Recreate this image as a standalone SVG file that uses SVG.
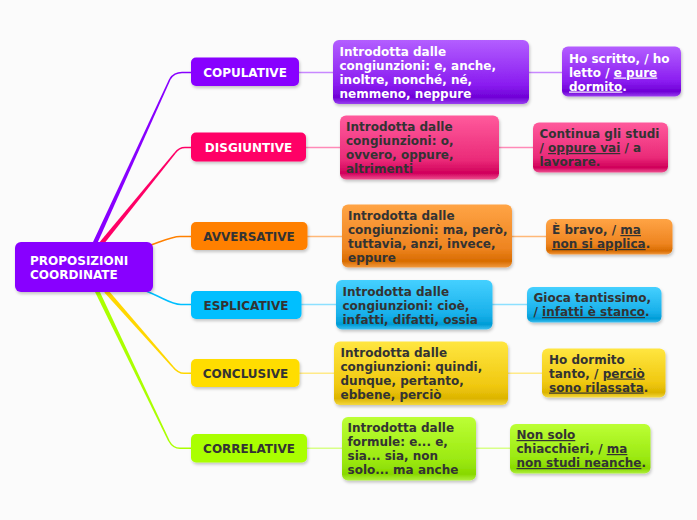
<svg xmlns="http://www.w3.org/2000/svg" width="697" height="520" viewBox="0 0 697 520">
<defs>
<style>
text{font-family:"DejaVu Sans",Verdana,sans-serif;font-weight:bold;font-size:12px}
.w{fill:#ffffff}
.d{fill:#333333}
.c{text-anchor:middle}
.u{text-decoration:underline}
.l2{fill:none;stroke-width:1.5}
</style>
<filter id="sh" x="-10%" y="-10%" width="120%" height="130%"><feDropShadow dx="1" dy="2" stdDeviation="1.5" flood-color="#000" flood-opacity="0.22"/></filter>
<linearGradient id="gv" x1="0" y1="0" x2="0" y2="1"><stop offset="0" stop-color="#b35eff"/><stop offset="0.7" stop-color="#8a1cf0"/><stop offset="0.9" stop-color="#6f00d6"/><stop offset="1" stop-color="#9a40f0"/></linearGradient>
<linearGradient id="gp" x1="0" y1="0" x2="0" y2="1"><stop offset="0" stop-color="#ff5a9c"/><stop offset="0.7" stop-color="#ea2a78"/><stop offset="0.9" stop-color="#d0005a"/><stop offset="1" stop-color="#ee5090"/></linearGradient>
<linearGradient id="go" x1="0" y1="0" x2="0" y2="1"><stop offset="0" stop-color="#ffa445"/><stop offset="0.7" stop-color="#ee8420"/><stop offset="0.9" stop-color="#d86c00"/><stop offset="1" stop-color="#f29a40"/></linearGradient>
<linearGradient id="gb" x1="0" y1="0" x2="0" y2="1"><stop offset="0" stop-color="#45d0ff"/><stop offset="0.7" stop-color="#18b0ea"/><stop offset="0.9" stop-color="#009cd6"/><stop offset="1" stop-color="#40c0f0"/></linearGradient>
<linearGradient id="gy" x1="0" y1="0" x2="0" y2="1"><stop offset="0" stop-color="#ffe640"/><stop offset="0.7" stop-color="#f0c810"/><stop offset="0.9" stop-color="#dcb400"/><stop offset="1" stop-color="#f4d840"/></linearGradient>
<linearGradient id="gl" x1="0" y1="0" x2="0" y2="1"><stop offset="0" stop-color="#bcff35"/><stop offset="0.7" stop-color="#9ae810"/><stop offset="0.9" stop-color="#88d800"/><stop offset="1" stop-color="#b0f040"/></linearGradient>
</defs>
<rect width="697" height="520" fill="#fbfbfb"/>
<g id="connectors">
<polygon points="93,242.1 169.27,78.67 170.73,79.33 97,243.9" fill="#8800ff"/>
<path d="M170,79 Q174,72.5 182,72.5 L191,72.5" class="l2" stroke="#8800ff"/>
<polygon points="99.29,242.61 174.38,152.5 175.62,153.5 102.71,245.39" fill="#ff0066"/>
<path d="M175,153 Q179,147.5 185,147.5 L191,147.5" class="l2" stroke="#ff0066"/>
<path d="M148,246 C165,240 172,236.5 180,236.5 L191,236.5" class="l2" stroke="#ff8000" stroke-width="1.8"/>
<path d="M146,291 C164,298 171,304.5 181,304.5 L191,304.5" class="l2" stroke="#00bfff" stroke-width="1.8"/>
<polygon points="107.65,289.55 173.6,366.47 172.4,367.53 104.35,292.45" fill="#ffd700"/>
<path d="M173,367 Q178,373.3 184,373.3 L191,373.3" class="l2" stroke="#ffd700"/>
<polygon points="98.98,290.05 169.72,440.65 168.28,441.35 95.02,291.95" fill="#aaff00"/>
<path d="M169,441 Q173,448.3 180,448.3 L191,448.3" class="l2" stroke="#aaff00"/>
<path d="M299,72.5 H333 M529,72.5 H562" class="l2" stroke="#c888ff"/>
<path d="M305,147.5 H340 M499,147.5 H533" class="l2" stroke="#ff8ab8"/>
<path d="M307,236.5 H342 M512,236.5 H546" class="l2" stroke="#ffb877"/>
<path d="M301,304.5 H336 M492,304.5 H527" class="l2" stroke="#8ce0ff"/>
<path d="M299,373.3 H334 M508,373.3 H542" class="l2" stroke="#ffea88"/>
<path d="M307,448.3 H342 M476,448.3 H510" class="l2" stroke="#d8ff88"/>
</g>
<g id="root">
<rect x="15" y="242" width="138" height="50" rx="6" fill="#8800ff" filter="url(#sh)"/>
<text class="w" x="30" y="265">PROPOSIZIONI</text>
<text class="w" x="30" y="279">COORDINATE</text>
</g>
<g id="copulative">
<rect x="191" y="57.5" width="108" height="28.5" rx="5" fill="#8800ff" filter="url(#sh)"/>
<text class="w c" x="245" y="77">COPULATIVE</text>
</g>
<g id="copulative-def">
<rect x="333" y="40" width="196" height="64" rx="6" fill="url(#gv)" filter="url(#sh)"/>
<text class="w" x="339.5" y="56">Introdotta dalle</text>
<text class="w" x="339.5" y="70">congiunzioni: e, anche,</text>
<text class="w" x="339.5" y="84">inoltre, nonché, né,</text>
<text class="w" x="339.5" y="98">nemmeno, neppure</text>
</g>
<g id="copulative-ex">
<rect x="562" y="46.5" width="119" height="50" rx="6" fill="url(#gv)" filter="url(#sh)"/>
<text class="w" x="569" y="62.5">Ho scritto, / ho</text>
<text class="w" x="569" y="76.5">letto / <tspan class="u">e pure </tspan></text>
<text class="w" x="569" y="90.5"><tspan class="u">dormito</tspan>.</text>
</g>
<g id="disgiuntive">
<rect x="191" y="132.5" width="115" height="29" rx="5" fill="#ff0066" filter="url(#sh)"/>
<text class="w c" x="248.5" y="152">DISGIUNTIVE</text>
</g>
<g id="disgiuntive-def">
<rect x="340" y="115.5" width="159" height="64" rx="6" fill="url(#gp)" filter="url(#sh)"/>
<text class="d" x="346" y="131">Introdotta dalle</text>
<text class="d" x="346" y="145">congiunzioni: o,</text>
<text class="d" x="346" y="159">ovvero, oppure,</text>
<text class="d" x="346" y="173">altrimenti</text>
</g>
<g id="disgiuntive-ex">
<rect x="533" y="122.5" width="135" height="50" rx="6" fill="url(#gp)" filter="url(#sh)"/>
<text class="d" x="539.5" y="138">Continua gli studi</text>
<text class="d" x="539.5" y="152">/ <tspan class="u">oppure vai</tspan> / a</text>
<text class="d" x="539.5" y="166">lavorare.</text>
</g>
<g id="avversative">
<rect x="191" y="222" width="116.5" height="28" rx="5" fill="#ff8000" filter="url(#sh)"/>
<text class="d c" x="249" y="241">AVVERSATIVE</text>
</g>
<g id="avversative-def">
<rect x="342" y="204.5" width="170" height="63" rx="6" fill="url(#go)" filter="url(#sh)"/>
<text class="d" x="348" y="220">Introdotta dalle</text>
<text class="d" x="348" y="234">congiunzioni: ma, però,</text>
<text class="d" x="348" y="248">tuttavia, anzi, invece,</text>
<text class="d" x="348" y="262">eppure</text>
</g>
<g id="avversative-ex">
<rect x="546" y="219" width="126.5" height="35.5" rx="6" fill="url(#go)" filter="url(#sh)"/>
<text class="d" x="552" y="234">È bravo, / <tspan class="u">ma </tspan></text>
<text class="d" x="552" y="248"><tspan class="u">non si applica</tspan>.</text>
</g>
<g id="esplicative">
<rect x="191" y="291" width="110.5" height="28" rx="5" fill="#00bfff" filter="url(#sh)"/>
<text class="d c" x="246" y="309.5">ESPLICATIVE</text>
</g>
<g id="esplicative-def">
<rect x="336" y="280" width="156.5" height="49.5" rx="6" fill="url(#gb)" filter="url(#sh)"/>
<text class="d" x="342.5" y="296">Introdotta dalle</text>
<text class="d" x="342.5" y="310">congiunzioni: cioè,</text>
<text class="d" x="342.5" y="324">infatti, difatti, ossia</text>
</g>
<g id="esplicative-ex">
<rect x="527" y="287" width="134.5" height="35.5" rx="6" fill="url(#gb)" filter="url(#sh)"/>
<text class="d" x="533.5" y="302">Gioca tantissimo,</text>
<text class="d" x="533.5" y="316">/ <tspan class="u">infatti è stanco</tspan>.</text>
</g>
<g id="conclusive">
<rect x="191" y="359" width="108.5" height="28" rx="5" fill="#ffdd00" filter="url(#sh)"/>
<text class="d c" x="245.5" y="378">CONCLUSIVE</text>
</g>
<g id="conclusive-def">
<rect x="334" y="341.5" width="174" height="63.5" rx="6" fill="url(#gy)" filter="url(#sh)"/>
<text class="d" x="340.5" y="357">Introdotta dalle</text>
<text class="d" x="340.5" y="371">congiunzioni: quindi,</text>
<text class="d" x="340.5" y="385">dunque, pertanto,</text>
<text class="d" x="340.5" y="399">ebbene, perciò</text>
</g>
<g id="conclusive-ex">
<rect x="542" y="348.5" width="123.5" height="49" rx="6" fill="url(#gy)" filter="url(#sh)"/>
<text class="d" x="549" y="363.5">Ho dormito</text>
<text class="d" x="549" y="377.5">tanto, / <tspan class="u">perciò </tspan></text>
<text class="d" x="549" y="391.5"><tspan class="u">sono rilassata</tspan>.</text>
</g>
<g id="correlative">
<rect x="191" y="434" width="116" height="28.5" rx="5" fill="#aaff00" filter="url(#sh)"/>
<text class="d c" x="249" y="453">CORRELATIVE</text>
</g>
<g id="correlative-def">
<rect x="342" y="417" width="134" height="63.5" rx="6" fill="url(#gl)" filter="url(#sh)"/>
<text class="d" x="347.5" y="432">Introdotta dalle</text>
<text class="d" x="347.5" y="446">formule: e... e,</text>
<text class="d" x="347.5" y="460">sia... sia, non</text>
<text class="d" x="347.5" y="474">solo... ma anche</text>
</g>
<g id="correlative-ex">
<rect x="510" y="424" width="140.5" height="49.5" rx="6" fill="url(#gl)" filter="url(#sh)"/>
<text class="d" x="516.5" y="439"><tspan class="u">Non solo</tspan></text>
<text class="d" x="516.5" y="453">chiacchieri, / <tspan class="u">ma </tspan></text>
<text class="d" x="516.5" y="467"><tspan class="u">non studi neanche</tspan>.</text>
</g>
</svg>
